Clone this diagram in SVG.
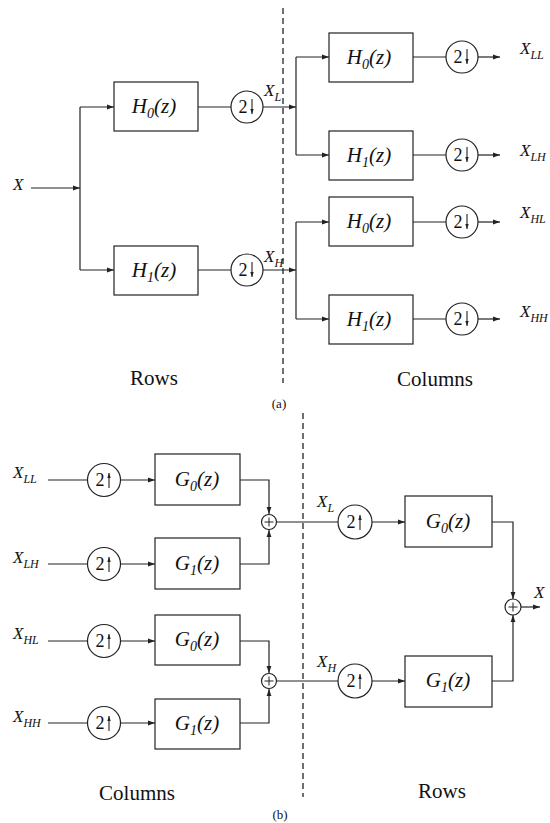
<svg xmlns="http://www.w3.org/2000/svg" width="550" height="823" viewBox="0 0 550 823">
<defs>
<marker id="ah" markerUnits="userSpaceOnUse" markerWidth="8" markerHeight="6" refX="7" refY="3" orient="auto">
<path d="M0,0.6 L7,3 L0,5.4 Z" fill="#222"/>
</marker>
<marker id="sh" markerUnits="userSpaceOnUse" markerWidth="6" markerHeight="4" refX="5" refY="2" orient="auto">
<path d="M0,0.3 L5,2 L0,3.7 Z" fill="#222"/>
</marker>
<path id="dn" d="M0,-8 V7" fill="none" stroke="#222" stroke-width="1.1" marker-end="url(#sh)"/>
<path id="up" d="M0,8 V-7" fill="none" stroke="#222" stroke-width="1.1" marker-end="url(#sh)"/>
<path id="plus" d="M-4.5,0 H4.5 M0,-4.5 V4.5" fill="none" stroke="#222" stroke-width="1"/>
<style>
.w{fill:none;stroke:#222;stroke-width:1.2}
.a{fill:none;stroke:#222;stroke-width:1.2;marker-end:url(#ah)}
.b{fill:#fff;stroke:#222;stroke-width:1.2}
.d{fill:none;stroke:#222;stroke-width:1.3;stroke-dasharray:6 4}
text{font-family:"Liberation Serif","DejaVu Serif",serif;fill:#111}
.m{font-size:21px;font-style:italic;text-anchor:middle}
.s{font-size:14px}
.c{font-size:18px;text-anchor:middle}
.l{font-size:17px;font-style:italic}
.ls{font-size:12px}
.cap{font-size:21px;text-anchor:middle}
.p{font-size:13px;text-anchor:middle}
</style>
</defs>
<rect width="550" height="823" fill="#fff"/>

<g id="connectors">
<!-- (a) -->
<line class="d" x1="283" y1="8" x2="283" y2="383"/>
<line class="a" x1="31" y1="188" x2="80" y2="188"/>
<polyline class="w" points="80,107 80,270"/>
<line class="a" x1="80" y1="107" x2="114" y2="107"/>
<line class="a" x1="80" y1="270" x2="114" y2="270"/>
<line class="w" x1="198" y1="107" x2="231" y2="107"/>
<line class="w" x1="198" y1="270" x2="231" y2="270"/>
<line class="a" x1="263" y1="107" x2="296" y2="107"/>
<line class="a" x1="263" y1="270" x2="296" y2="270"/>
<polyline class="w" points="296,57 296,155"/>
<polyline class="w" points="296,222 296,319"/>
<line class="a" x1="296" y1="57" x2="329" y2="57"/>
<line class="a" x1="296" y1="155" x2="329" y2="155"/>
<line class="a" x1="296" y1="222" x2="329" y2="222"/>
<line class="a" x1="296" y1="319" x2="329" y2="319"/>
<line class="w" x1="413" y1="57" x2="446" y2="57"/>
<line class="w" x1="413" y1="155" x2="446" y2="155"/>
<line class="w" x1="413" y1="222" x2="446" y2="222"/>
<line class="w" x1="413" y1="319" x2="446" y2="319"/>
<line class="a" x1="478" y1="57" x2="500" y2="57"/>
<line class="a" x1="478" y1="155" x2="500" y2="155"/>
<line class="a" x1="478" y1="222" x2="500" y2="222"/>
<line class="a" x1="478" y1="319" x2="500" y2="319"/>
<!-- (b) -->
<line class="d" x1="303" y1="413" x2="303" y2="797"/>
<line class="w" x1="48" y1="480" x2="87" y2="480"/>
<line class="w" x1="48" y1="564" x2="87" y2="564"/>
<line class="w" x1="48" y1="641" x2="87" y2="641"/>
<line class="w" x1="48" y1="723" x2="87" y2="723"/>
<line class="a" x1="121" y1="480" x2="155" y2="480"/>
<line class="a" x1="121" y1="564" x2="155" y2="564"/>
<line class="a" x1="121" y1="641" x2="155" y2="641"/>
<line class="a" x1="121" y1="723" x2="155" y2="723"/>
<polyline class="a" points="240,480 269,480 269,514"/>
<polyline class="a" points="240,564 269,564 269,530"/>
<polyline class="a" points="240,641 269,641 269,673"/>
<polyline class="a" points="240,723 269,723 269,689"/>
<line class="w" x1="277" y1="522" x2="338" y2="522"/>
<line class="w" x1="277" y1="681" x2="338" y2="681"/>
<line class="a" x1="372" y1="522" x2="405" y2="522"/>
<line class="a" x1="372" y1="681" x2="405" y2="681"/>
<polyline class="a" points="492,522 513,522 513,599"/>
<polyline class="a" points="492,681 513,681 513,615"/>
<line class="a" x1="521" y1="607" x2="540" y2="607"/>
</g>

<!-- (a) nodes -->
<g id="a-H0"><rect class="b" x="114" y="82" width="84" height="49"/><text class="m" x="154" y="113">H<tspan class="s" dy="5">0</tspan><tspan dy="-5">(z)</tspan></text></g>
<g id="a-H1"><rect class="b" x="114" y="246" width="84" height="49"/><text class="m" x="154" y="277">H<tspan class="s" dy="5">1</tspan><tspan dy="-5">(z)</tspan></text></g>
<g id="a-D0"><circle class="b" cx="247" cy="107" r="16"/><text class="c" x="243" y="113">2</text><use href="#dn" x="252" y="107"/></g>
<g id="a-D1"><circle class="b" cx="247" cy="270" r="16"/><text class="c" x="243" y="276">2</text><use href="#dn" x="252" y="270"/></g>
<g id="a-H00"><rect class="b" x="329" y="33" width="84" height="49"/><text class="m" x="369" y="64">H<tspan class="s" dy="5">0</tspan><tspan dy="-5">(z)</tspan></text></g>
<g id="a-H01"><rect class="b" x="329" y="131" width="84" height="49"/><text class="m" x="369" y="162">H<tspan class="s" dy="5">1</tspan><tspan dy="-5">(z)</tspan></text></g>
<g id="a-H10"><rect class="b" x="329" y="197" width="84" height="49"/><text class="m" x="369" y="228">H<tspan class="s" dy="5">0</tspan><tspan dy="-5">(z)</tspan></text></g>
<g id="a-H11"><rect class="b" x="329" y="295" width="84" height="49"/><text class="m" x="369" y="326">H<tspan class="s" dy="5">1</tspan><tspan dy="-5">(z)</tspan></text></g>
<g id="a-D00"><circle class="b" cx="462" cy="57" r="16"/><text class="c" x="458" y="63">2</text><use href="#dn" x="467" y="57"/></g>
<g id="a-D01"><circle class="b" cx="462" cy="155" r="16"/><text class="c" x="458" y="161">2</text><use href="#dn" x="467" y="155"/></g>
<g id="a-D10"><circle class="b" cx="462" cy="222" r="16"/><text class="c" x="458" y="228">2</text><use href="#dn" x="467" y="222"/></g>
<g id="a-D11"><circle class="b" cx="462" cy="319" r="16"/><text class="c" x="458" y="325">2</text><use href="#dn" x="467" y="319"/></g>
<g id="a-labels">
<text class="l" x="13" y="190">X</text>
<text class="l" x="264" y="96">X<tspan class="ls" dy="5">L</tspan></text>
<text class="l" x="264" y="262">X<tspan class="ls" dy="5">H</tspan></text>
<text class="l" x="520" y="54">X<tspan class="ls" dy="5">LL</tspan></text>
<text class="l" x="520" y="156">X<tspan class="ls" dy="5">LH</tspan></text>
<text class="l" x="520" y="218">X<tspan class="ls" dy="5">HL</tspan></text>
<text class="l" x="520" y="317">X<tspan class="ls" dy="5">HH</tspan></text>
<text class="cap" x="154" y="385">Rows</text>
<text class="cap" x="435" y="386">Columns</text>
<text class="p" x="279" y="408">(a)</text>
</g>

<!-- (b) nodes -->
<g id="b-U0"><circle class="b" cx="104" cy="480" r="16.5"/><text class="c" x="100" y="486">2</text><use href="#up" x="109" y="480"/></g>
<g id="b-U1"><circle class="b" cx="104" cy="564" r="16.5"/><text class="c" x="100" y="570">2</text><use href="#up" x="109" y="564"/></g>
<g id="b-U2"><circle class="b" cx="104" cy="641" r="16.5"/><text class="c" x="100" y="647">2</text><use href="#up" x="109" y="641"/></g>
<g id="b-U3"><circle class="b" cx="104" cy="723" r="16.5"/><text class="c" x="100" y="729">2</text><use href="#up" x="109" y="723"/></g>
<g id="b-G00"><rect class="b" x="155" y="454" width="85" height="51"/><text class="m" x="197" y="486">G<tspan class="s" dy="5">0</tspan><tspan dy="-5">(z)</tspan></text></g>
<g id="b-G01"><rect class="b" x="155" y="538" width="85" height="51"/><text class="m" x="197" y="570">G<tspan class="s" dy="5">1</tspan><tspan dy="-5">(z)</tspan></text></g>
<g id="b-G10"><rect class="b" x="155" y="615" width="85" height="50"/><text class="m" x="197" y="646">G<tspan class="s" dy="5">0</tspan><tspan dy="-5">(z)</tspan></text></g>
<g id="b-G11"><rect class="b" x="155" y="699" width="85" height="50"/><text class="m" x="197" y="730">G<tspan class="s" dy="5">1</tspan><tspan dy="-5">(z)</tspan></text></g>
<g id="b-S0"><circle class="b" cx="269" cy="522" r="7.5"/><use href="#plus" x="269" y="522"/></g>
<g id="b-S1"><circle class="b" cx="269" cy="681" r="7.5"/><use href="#plus" x="269" y="681"/></g>
<g id="b-UL"><circle class="b" cx="355" cy="522" r="17"/><text class="c" x="351" y="528">2</text><use href="#up" x="360" y="522"/></g>
<g id="b-UH"><circle class="b" cx="355" cy="681" r="17"/><text class="c" x="351" y="687">2</text><use href="#up" x="360" y="681"/></g>
<g id="b-G0"><rect class="b" x="405" y="496" width="87" height="51"/><text class="m" x="448" y="528">G<tspan class="s" dy="5">0</tspan><tspan dy="-5">(z)</tspan></text></g>
<g id="b-G1"><rect class="b" x="405" y="656" width="87" height="51"/><text class="m" x="448" y="687">G<tspan class="s" dy="5">1</tspan><tspan dy="-5">(z)</tspan></text></g>
<g id="b-S"><circle class="b" cx="513" cy="607" r="8"/><use href="#plus" x="513" y="607"/></g>
<g id="b-labels">
<text class="l" x="13" y="478">X<tspan class="ls" dy="5">LL</tspan></text>
<text class="l" x="13" y="563">X<tspan class="ls" dy="5">LH</tspan></text>
<text class="l" x="13" y="639">X<tspan class="ls" dy="5">HL</tspan></text>
<text class="l" x="13" y="722">X<tspan class="ls" dy="5">HH</tspan></text>
<text class="l" x="317" y="507">X<tspan class="ls" dy="5">L</tspan></text>
<text class="l" x="317" y="667">X<tspan class="ls" dy="5">H</tspan></text>
<text class="l" x="534" y="598">X</text>
<text class="cap" x="137" y="800">Columns</text>
<text class="cap" x="442" y="798">Rows</text>
<text class="p" x="280" y="819">(b)</text>
</g>
</svg>
